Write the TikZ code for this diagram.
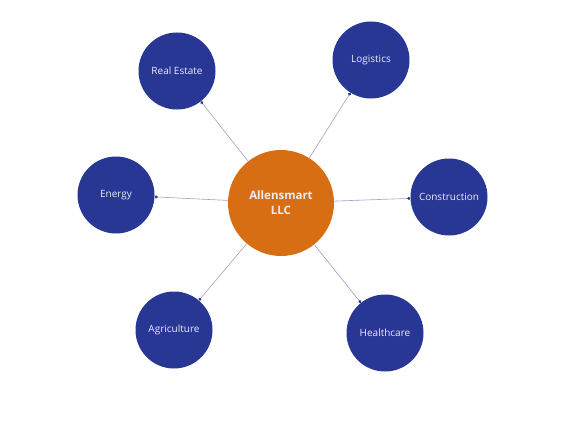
\documentclass[tikz,border=0pt]{standalone}
\usepackage{fontspec}
\setmainfont{Open Sans}
\usetikzlibrary{arrows.meta}
\definecolor{hubblue}{RGB}{40,54,148}
\definecolor{huborange}{RGB}{216,110,20}
\definecolor{linkgray}{RGB}{160,160,200}
\definecolor{txtwhite}{RGB}{235,235,250}
\tikzset{
  sector/.style={circle, fill=hubblue, minimum size=77pt, inner sep=0pt, text=txtwhite, font=\fontsize{10}{12}\selectfont, align=center},
  hub/.style={circle, fill=huborange, minimum size=106pt, inner sep=0pt, text=txtwhite, font=\fontsize{11.5}{15}\selectfont\bfseries, align=center},
  link/.style={draw=linkgray, line width=0.6pt, -{Circle[length=3pt, color=hubblue, fill=hubblue]}}
}
\begin{document}
\begin{tikzpicture}[x=1pt, y=-1pt]
\useasboundingbox (0,0) rectangle (562,444);
\node[hub] (c) at (281,203) {Allensmart\\LLC};
\node[sector] (re) at (177,71) {Real Estate};
\node[sector] (lo) at (371,60) {Logistics};
\node[sector] (en) at (116,195) {Energy};
\node[sector] (co) at (449,197) {Construction};
\node[sector] (ag) at (174,330) {Agriculture};
\node[sector] (he) at (385,333) {Healthcare};
\foreach \n in {re,lo,en,co,ag,he}{
  \draw[link] (c) -- (\n);
}
\end{tikzpicture}
\end{document}
